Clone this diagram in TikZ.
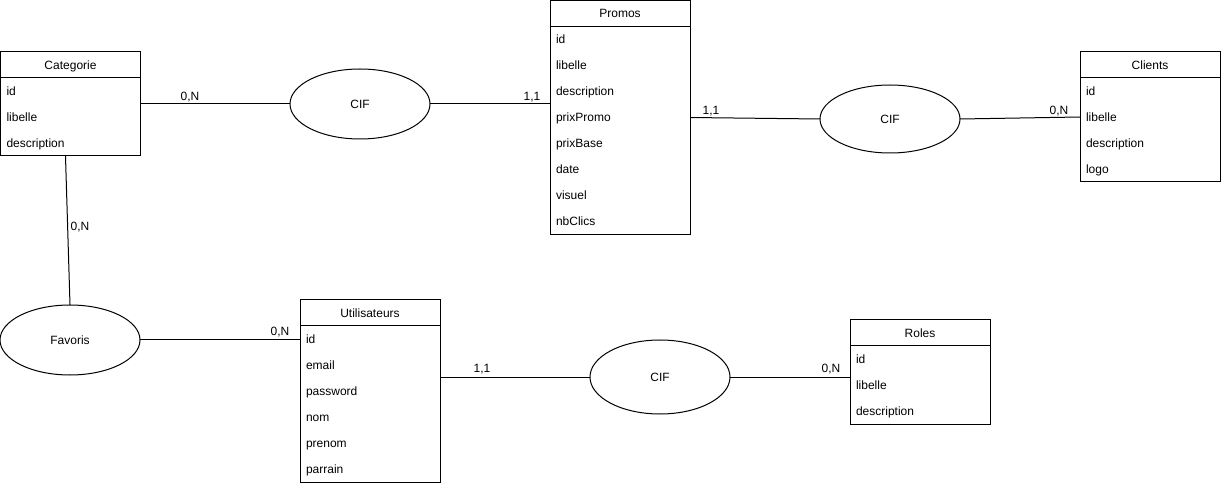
\documentclass[tikz,border=0pt]{standalone}
\usepackage{fontspec}
\setmainfont{Liberation Sans}
\usetikzlibrary{shapes.geometric}

% Entity table: #1 name, #2 x, #3 y (top left), #4 title, #5 number of attributes, #6 attribute list
\newcommand\erentity[6]{%
  \node[entitybox, minimum height={26pt*(#5+1)}] (#1) at (#2,#3) {};
  \draw[frame] ([yshift=-26pt]#1.north west) -- ([yshift=-26pt]#1.north east);
  \node[entitytitle] (#1-title) at ([yshift=-17.5pt]#1.north) {#4};
  \foreach \a [count=\i] in {#6}
    \node[attr] (#1-\i) at ([xshift=6pt, yshift={-17.5pt-26pt*\i}]#1.north west) {\a};
}

\begin{document}
\begin{tikzpicture}[x=1pt, y=-1pt,
  every node/.style={font=\fontsize{12}{14}\selectfont, inner sep=0pt, outer sep=0pt},
  frame/.style={line width=1pt, draw=black},
  entitybox/.style={frame, rectangle, minimum width=140pt, anchor=north west},
  entitytitle/.style={anchor=base},
  attr/.style={anchor=base west},
  relation/.style={frame, ellipse, minimum width=140pt, minimum height=70pt},
  link/.style={line width=1pt},
  card/.style={anchor=base}
]
\useasboundingbox (0,0) rectangle (1221,486);

% entities
\erentity{cat}{0.5}{52}{Categorie}{3}{id,libelle,description}
\erentity{promos}{550}{0.5}{Promos}{8}{id,libelle,description,prixPromo,prixBase,date,visuel,nbClics}
\erentity{clients}{1080}{52}{Clients}{4}{id,libelle,description,logo}
\erentity{uti}{300}{300}{Utilisateurs}{6}{id,email,password,nom,prenom,parrain}
\erentity{roles}{850}{320}{Roles}{3}{id,libelle,description}

% relations
\node[relation] (cif1) at (360,104) {CIF};
\node[relation, minimum height=68pt] (cif2) at (890,119) {CIF};
\node[relation] (fav) at (70,340) {Favoris};
\node[relation, minimum height=74pt] (cif3) at (660,377) {CIF};

% connectors
\draw[link] (cat.east) -- (cif1.west);
\draw[link] (cif1.east) -- (promos.west |- cif1.east);
\draw[link] (promos.east) -- (cif2.west);
\draw[link] (cif2.east) -- (clients.west);
\draw[link] ([xshift=-5pt]cat.south) -- (fav.north);
\draw[link] (fav.east) -- (uti.west |- fav.east);
\draw[link] (cif3.west -| uti.east) -- (cif3.west);
\draw[link] (cif3.east) -- (roles.west |- cif3.east);

% cardinalities
\node[card] (c1) at (190,100.5) {0,N};
\node[card] (c2) at (532,100.5) {1,1};
\node[card] (c3) at (711,114.5) {1,1};
\node[card] (c4) at (1059,114.5) {0,N};
\node[card] (c5) at (80,230.5) {0,N};
\node[card] (c6) at (280,335.5) {0,N};
\node[card] (c7) at (482,372.5) {1,1};
\node[card] (c8) at (831,372.5) {0,N};
\end{tikzpicture}
\end{document}
